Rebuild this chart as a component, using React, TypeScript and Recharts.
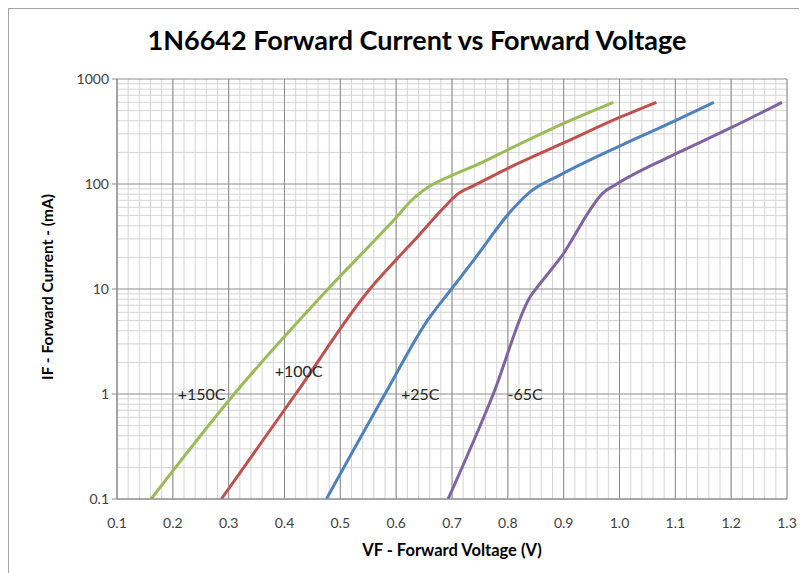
import React from 'react'
import { LineChart, Line, XAxis, YAxis, CartesianGrid, ReferenceDot } from 'recharts'

// forward voltage (V) vs forward current (mA)
const temp150 = [
  { v: 0.161, i: 0.1 }, { v: 0.31, i: 1 }, { v: 0.478, i: 10 }, { v: 0.6, i: 48 },
  { v: 0.63, i: 72 }, { v: 0.66, i: 95 }, { v: 0.702, i: 122 }, { v: 0.75, i: 157 },
  { v: 0.8, i: 212 }, { v: 0.9, i: 378 }, { v: 0.989, i: 600 },
]
const temp100 = [
  { v: 0.287, i: 0.1 }, { v: 0.42, i: 1 }, { v: 0.553, i: 10 }, { v: 0.6, i: 19 },
  { v: 0.636, i: 30.5 }, { v: 0.684, i: 58.5 }, { v: 0.71, i: 80 }, { v: 0.74, i: 97 },
  { v: 0.8, i: 141 }, { v: 0.9, i: 246 }, { v: 1.0, i: 430 }, { v: 1.066, i: 600 },
]
const temp25 = [
  { v: 0.475, i: 0.1 }, { v: 0.58, i: 1 }, { v: 0.657, i: 5.1 }, { v: 0.699, i: 10 },
  { v: 0.741, i: 19.5 }, { v: 0.804, i: 54 }, { v: 0.84, i: 84 }, { v: 0.894, i: 122 },
  { v: 1.037, i: 282 }, { v: 1.103, i: 408 }, { v: 1.169, i: 600 },
]
const tempMinus65 = [
  { v: 0.693, i: 0.1 }, { v: 0.774, i: 1 }, { v: 0.84, i: 8.45 }, { v: 0.858, i: 11.3 },
  { v: 0.9, i: 21.9 }, { v: 0.947, i: 56.5 }, { v: 0.968, i: 80 }, { v: 0.995, i: 100 },
  { v: 1.109, i: 203 }, { v: 1.198, i: 340 }, { v: 1.291, i: 600 },
]

const curveLabels = [
  { text: '+150C', v: 0.2515, i: 1 },
  { text: '+100C', v: 0.4254, i: 1.63 },
  { text: '+25C', v: 0.643, i: 1 },
  { text: '-65C', v: 0.831, i: 1 },
]

const xTicks = [0.1, 0.2, 0.3, 0.4, 0.5, 0.6, 0.7, 0.8, 0.9, 1.0, 1.1, 1.2, 1.3]
const yTicks = [0.1, 1, 10, 100, 1000]
const xMinor = Array.from({ length: 61 }, (_, k) => +(0.1 + k * 0.02).toFixed(2))
const yMinor = yTicks.slice(0, 4).flatMap((d) => [2, 3, 4, 5, 6, 7, 8, 9].map((m) => +(d * m).toPrecision(3)))

const font = 'Lato, "Open Sans", sans-serif'

export default function App() {
  return (
    <div
      style={{
        position: 'relative',
        width: 799,
        height: 565,
        boxSizing: 'border-box',
        borderLeft: '1px solid #a6a6a6',
        borderTop: '1px solid #a6a6a6',
        fontFamily: font,
        overflow: 'hidden',
      }}
    >
      <div
        style={{
          position: 'absolute',
          top: 17,
          left: 108,
          width: 600,
          textAlign: 'center',
          fontSize: 27,
          lineHeight: '27px',
          fontWeight: 700,
          color: '#000',
        }}
      >
        1N6642 Forward Current vs Forward Voltage
      </div>
      <LineChart width={798} height={564} margin={{ top: 70, right: 20, bottom: 0, left: 0 }}>
        <CartesianGrid stroke="#d4d4d4" horizontalValues={yMinor} verticalValues={xMinor} />
        <CartesianGrid stroke="#8c8c8c" horizontalValues={yTicks} verticalValues={xTicks} />
        <XAxis
          type="number"
          dataKey="v"
          domain={[0.1, 1.3]}
          ticks={xTicks}
          interval={0}
          allowDataOverflow
          height={74}
          tickLine={false}
          tickMargin={13}
          axisLine={{ stroke: '#8c8c8c' }}
          tick={{ fontSize: 14, fill: '#404040', fontFamily: font }}
          tickFormatter={(t) => t.toFixed(1)}
          label={{
            value: 'VF - Forward Voltage (V)',
            position: 'insideBottom',
            offset: 17,
            style: { fontSize: 16.5, fontWeight: 700, fill: '#000', fontFamily: font },
          }}
        />
        <YAxis
          type="number"
          dataKey="i"
          scale="log"
          domain={[0.1, 1000]}
          ticks={yTicks}
          interval={0}
          allowDataOverflow
          width={108}
          tickSize={5}
          tickMargin={3}
          axisLine={{ stroke: '#8c8c8c' }}
          tickLine={{ stroke: '#8c8c8c' }}
          tick={{ fontSize: 14, fill: '#404040', fontFamily: font }}
          tickFormatter={(t) => (t < 1 ? '0.1' : String(t))}
          label={{
            content: ({ viewBox }: any) => {
              const cx = viewBox.x + 38
              const cy = viewBox.y + viewBox.height / 2 - 2
              return (
                <text
                  x={cx}
                  y={cy}
                  transform={`rotate(-90 ${cx} ${cy})`}
                  textAnchor="middle"
                  dominantBaseline="central"
                  style={{ fontSize: 15.5, fontWeight: 700, fill: '#000', fontFamily: font }}
                >
                  IF - Forward Current - (mA)
                </text>
              )
            },
          }}
        />
        <Line data={temp150} dataKey="i" type="monotone" stroke="#9bbb59" strokeWidth={3} dot={false} isAnimationActive={false} />
        <Line data={temp100} dataKey="i" type="monotone" stroke="#c0504d" strokeWidth={3} dot={false} isAnimationActive={false} />
        <Line data={temp25} dataKey="i" type="monotone" stroke="#4f81bd" strokeWidth={3} dot={false} isAnimationActive={false} />
        <Line data={tempMinus65} dataKey="i" type="monotone" stroke="#8064a2" strokeWidth={3} dot={false} isAnimationActive={false} />
        {curveLabels.map((c) => (
          <ReferenceDot
            key={c.text}
            x={c.v}
            y={c.i}
            r={0}
            stroke="none"
            label={{ value: c.text, position: 'center', style: { fontSize: 16, fill: '#262626', fontFamily: font } }}
          />
        ))}
      </LineChart>
    </div>
  )
}
